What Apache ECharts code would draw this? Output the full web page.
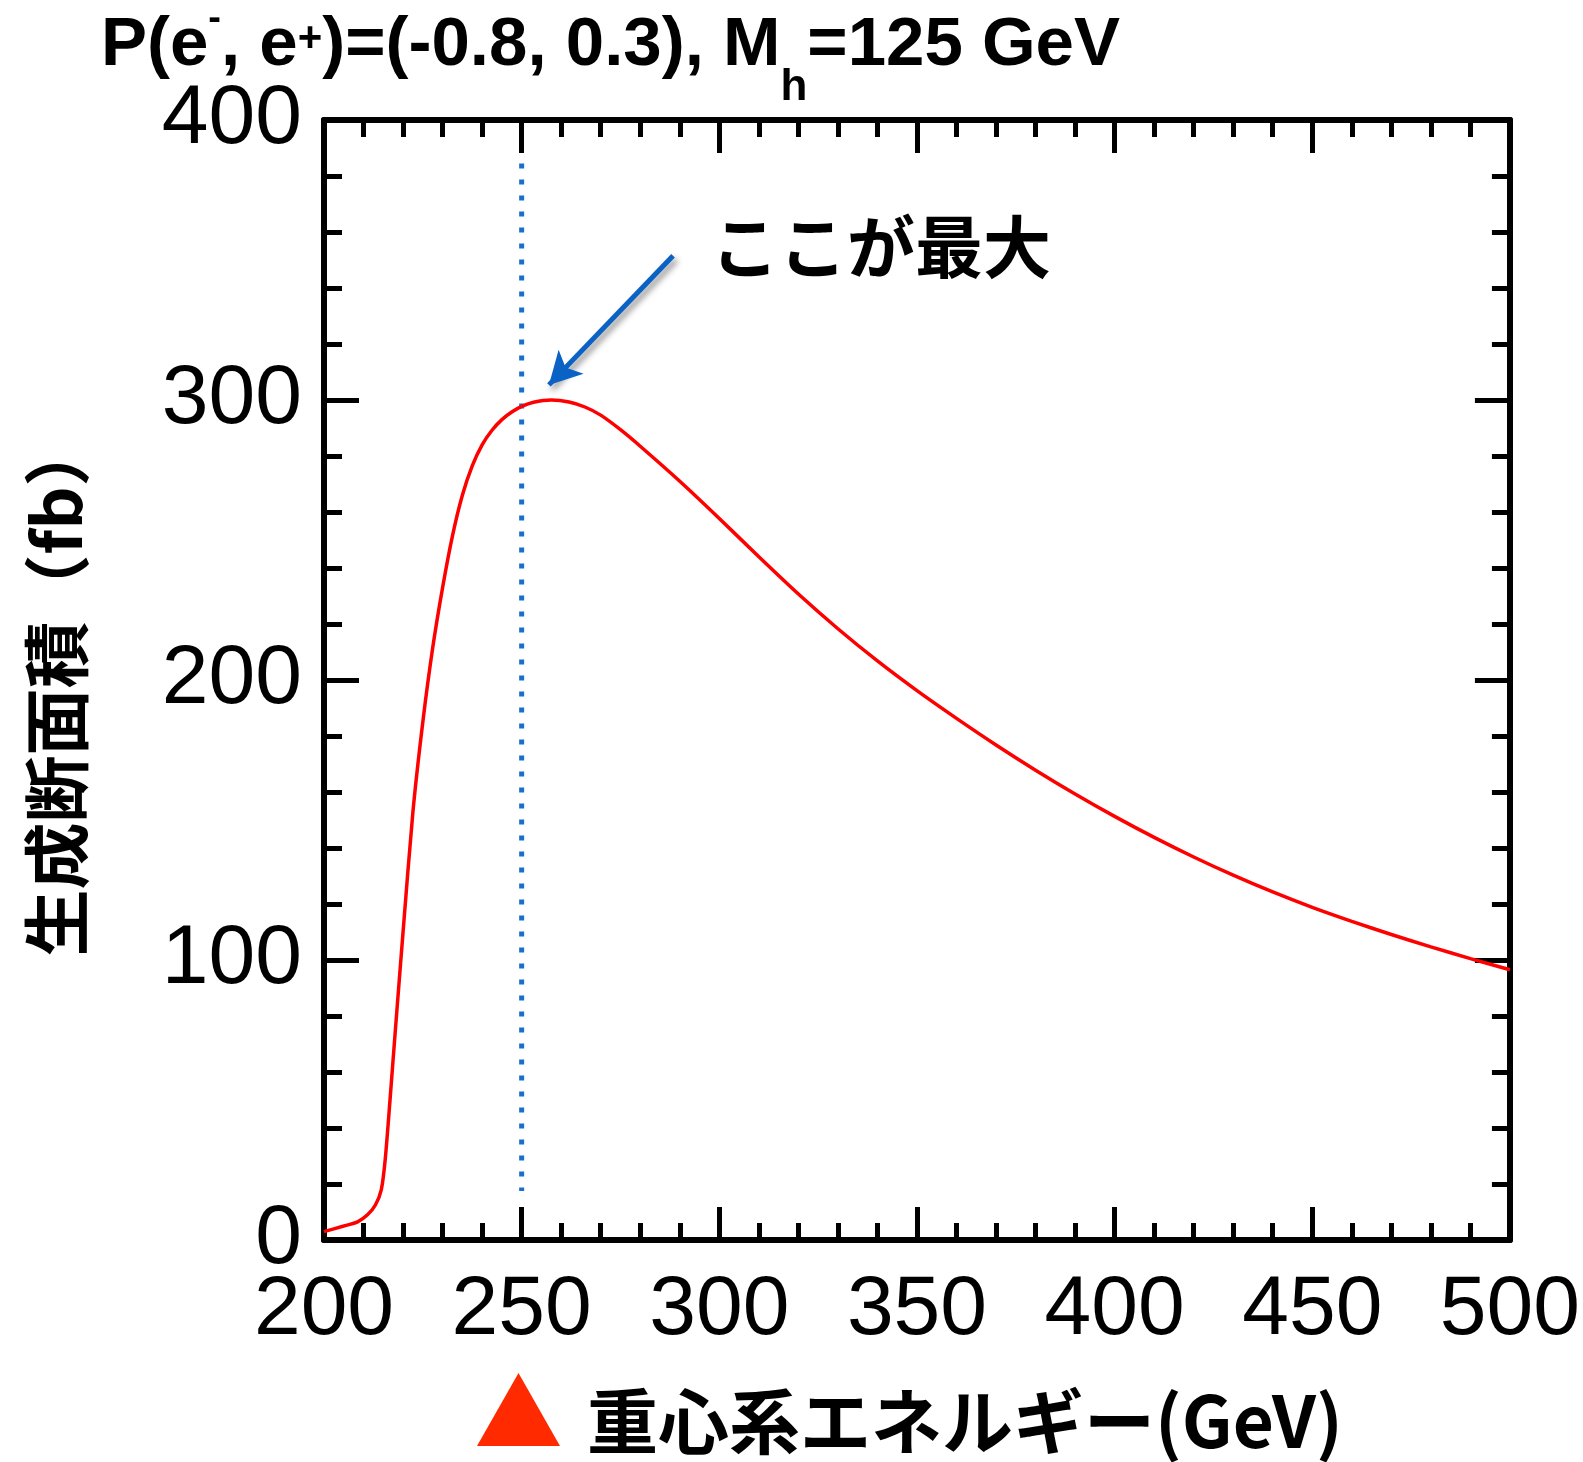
<!DOCTYPE html>
<html><head><meta charset="utf-8">
<script src="https://cdn.jsdelivr.net/npm/echarts@6/dist/echarts.min.js"></script>
<style>html,body{margin:0;padding:0;background:#fff}#c{width:1583px;height:1462px}</style>
</head><body><div id="c"></div>
<script>
// Centre-of-mass energy (GeV)
const energy = [200, 205, 208.5, 211, 213, 214.5, 215.5, 216.7, 218, 220, 222.5, 225, 227.5, 230, 232.5, 235, 237.5, 240, 242.5, 245, 247.5, 250, 253, 257.5, 262, 266, 270, 275, 280, 290, 300, 310, 320, 330, 340, 350, 360, 370, 380, 390, 400, 410, 420, 430, 440, 450, 460, 470, 480, 490, 500];
// Production cross section (fb)
const xsec = [3, 5, 6.5, 9, 12.5, 18, 29, 50, 74, 110, 153, 185, 211.5, 233, 251.5, 266, 276.5, 284, 289.2, 293, 295.7, 297.7, 299.2, 300, 299.3, 297.5, 294.6, 289.4, 283.5, 271, 257.7, 244, 230.7, 218.3, 206.8, 196.2, 186.3, 176.8, 167.8, 159.3, 151.3, 143.8, 136.8, 130.3, 124.3, 118.8, 113.8, 109.1, 104.7, 100.5, 96.5];
// dotted marker at 250 GeV
const markerE = [250, 250];
const markerV = [384.5, 17.5];
// annotation arrow (data coords)
const arrowFrom = [288.3, 351.5];
const arrowTo = [256.9, 305.4];
const annotationText = 'ここが最大';
const xName = '重心系エネルギー(GeV)';
const yName = '生成断面積（fb）';

const chart = echarts.init(document.getElementById('c'), null, {renderer: 'canvas'});
const axisLine = {show: true, onZero: false, lineStyle: {color: '#000', width: 6}};
const tickStyle = {color: '#000', width: 5};
const labelFont = {fontSize: 84, color: '#000', fontFamily: 'Liberation Sans'};
const tf = {fontWeight: 'bold', fontFamily: 'Liberation Sans', color: '#000', verticalAlign: 'top'};

const option = {
  animation: false,
  backgroundColor: '#fff',
  title: {
    left: 101, top: 0, padding: 0,
    text: '{m|P(e}{spm|-}{m|, e}{spp|+}{m|)=(-0.8, 0.3), M}{sb|h}{m|=125 GeV}',
    textStyle: {
      rich: {
        m: Object.assign({fontSize: 69, lineHeight: 69, padding: [11, 0, 0, 0]}, tf),
        spm: Object.assign({fontSize: 38, lineHeight: 38, padding: [1, 0, 0, 0]}, tf),
        spp: Object.assign({fontSize: 42, lineHeight: 42, padding: [18, 0, 0, 0]}, tf),
        sb: Object.assign({fontSize: 44, lineHeight: 44, padding: [66, 0, 0, 0]}, tf)
      }
    }
  },
  grid: {left: 324, right: 73, top: 120, bottom: 221, containLabel: false},
  xAxis: [
    {
      type: 'value', min: 200, max: 500, interval: 50, position: 'bottom',
      axisLine: axisLine,
      axisTick: {show: true, inside: true, length: 33, lineStyle: tickStyle},
      minorTick: {show: true, splitNumber: 5, length: 17, lineStyle: tickStyle},
      splitLine: {show: false}, minorSplitLine: {show: false},
      axisLabel: Object.assign({margin: 29}, labelFont),
      name: xName, nameLocation: 'middle', nameGap: 146,
      nameTextStyle: {fontSize: 71, fontWeight: 'bold', fontFamily: 'Noto Sans CJK JP', color: '#000', padding: [0, 0, 0, 96]}
    },
    {
      type: 'value', min: 200, max: 500, interval: 50, position: 'top',
      axisLine: axisLine,
      axisTick: {show: true, inside: true, length: 33, lineStyle: tickStyle},
      minorTick: {show: true, splitNumber: 5, length: 17, lineStyle: tickStyle},
      splitLine: {show: false}, axisLabel: {show: false}
    }
  ],
  yAxis: [
    {
      type: 'value', min: 0, max: 400, interval: 100, position: 'left',
      axisLine: axisLine,
      axisTick: {show: true, inside: true, length: 35, lineStyle: tickStyle},
      minorTick: {show: true, splitNumber: 5, length: 18, lineStyle: tickStyle},
      splitLine: {show: false}, minorSplitLine: {show: false},
      axisLabel: Object.assign({margin: 22}, labelFont),
      name: yName, nameLocation: 'middle', nameRotate: 90, nameGap: 234,
      nameTextStyle: {fontSize: 67, fontWeight: 'bold', fontFamily: 'Noto Sans CJK JP', color: '#000', padding: [0, 16, 0, 0]}
    },
    {
      type: 'value', min: 0, max: 400, interval: 100, position: 'right',
      axisLine: axisLine,
      axisTick: {show: true, inside: true, length: 35, lineStyle: tickStyle},
      minorTick: {show: true, splitNumber: 5, length: 18, lineStyle: tickStyle},
      splitLine: {show: false}, axisLabel: {show: false}
    }
  ],
  series: [
    {
      type: 'line', xAxisIndex: 0, yAxisIndex: 0, z: 4,
      data: energy.map((e, i) => [e, xsec[i]]),
      showSymbol: false, symbol: 'none', smooth: 0.25,
      lineStyle: {color: '#ff0000', width: 3.5},
      markLine: {
        silent: true, animation: false,
        symbol: ['none', 'arrow'], symbolSize: [26, 32],
        label: {show: false},
        emphasis: {disabled: true},
        lineStyle: {color: '#0a62c4', width: 5, type: 'solid', shadowBlur: 6, shadowColor: 'rgba(0,0,0,0.45)', shadowOffsetX: 3, shadowOffsetY: 4},
        data: [[{coord: arrowFrom}, {coord: arrowTo}]]
      }
    },
    {
      type: 'line', xAxisIndex: 0, yAxisIndex: 0, z: 3,
      data: markerE.map((e, i) => [e, markerV[i]]),
      showSymbol: false, symbol: 'none',
      lineStyle: {color: '#1b6fcc', width: 5, type: [5, 11], cap: 'butt'}
    }
  ],
  graphic: [
    {type: 'text', left: 711, top: 213, style: {text: annotationText, fontSize: 68, fontWeight: 'bold', fontFamily: 'Noto Sans CJK JP', fill: '#000'}},
    {type: 'polygon', shape: {points: [[518.5, 1373], [477, 1446], [560, 1446]]}, style: {fill: '#ff2a00'}}
  ]
};
chart.setOption(option);
</script>
</body></html>
